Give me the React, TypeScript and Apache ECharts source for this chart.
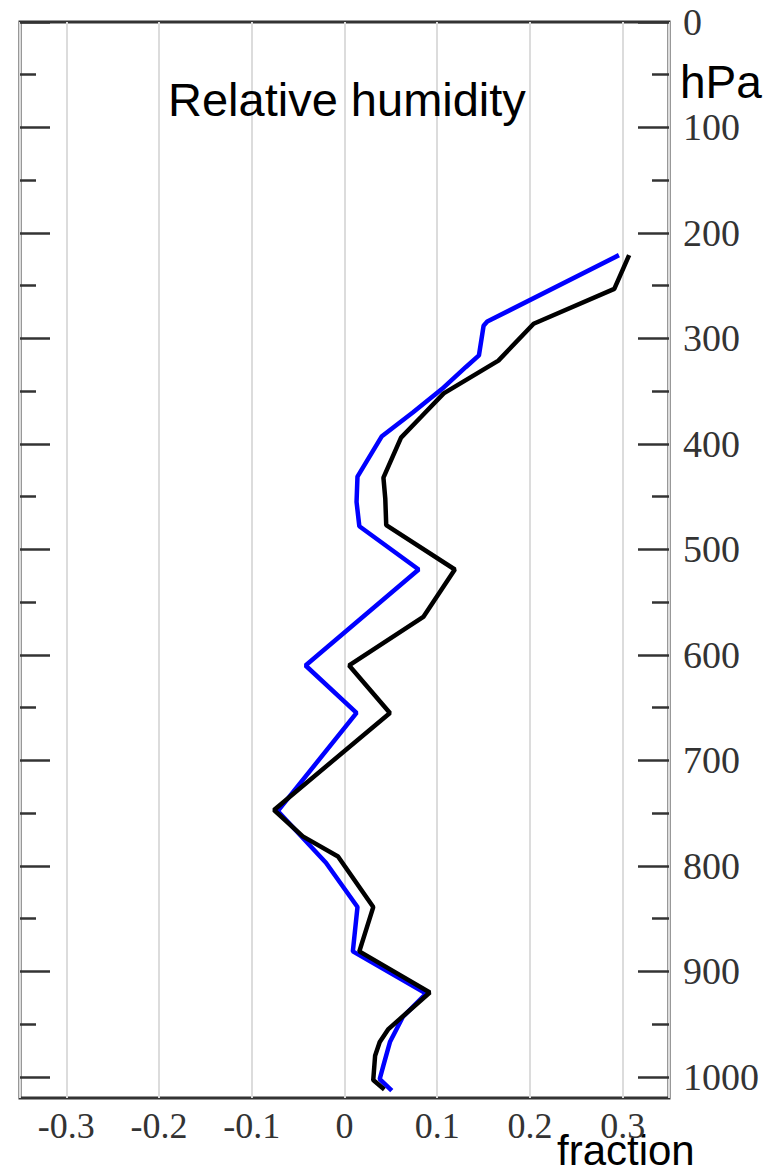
import React, { useEffect, useRef } from "react";
import * as echarts from "echarts";

// Pressure axis (hPa), drawn top-down
const pressureMajorTicks = [0, 100, 200, 300, 400, 500, 600, 700, 800, 900, 1000];
const pressureMinorTicks = [50, 150, 250, 350, 450, 550, 650, 750, 850, 950];

// Fraction axis labels
const fractionLabels = [-0.3, -0.2, -0.1, 0, 0.1, 0.2, 0.3];

// Black profile: relative humidity difference (fraction) by pressure level
const blackPressure = [221, 253, 286, 321, 352, 374, 394, 432, 452, 477, 519, 564, 610, 655, 747, 772, 791, 839, 881, 920, 955, 967, 980, 1003, 1012];
const blackFraction = [0.307, 0.291, 0.204, 0.166, 0.107, 0.083, 0.061, 0.042, 0.044, 0.045, 0.119, 0.085, 0.005, 0.049, -0.076, -0.045, -0.007, 0.031, 0.016, 0.092, 0.047, 0.038, 0.033, 0.031, 0.043];

// Blue profile
const bluePressure = [221, 284, 288, 316, 327, 348, 370, 393, 431, 455, 478, 519, 610, 655, 748, 797, 839, 881, 921, 943, 967, 989, 1002, 1013];
const blueFraction = [0.296, 0.154, 0.150, 0.145, 0.131, 0.105, 0.074, 0.040, 0.014, 0.013, 0.016, 0.080, -0.042, 0.013, -0.072, -0.020, 0.014, 0.009, 0.088, 0.063, 0.049, 0.042, 0.038, 0.051];

const SERIF = '"Liberation Serif", "Times New Roman", serif';
const SANS = '"Liberation Sans", Arial, sans-serif';
const FRAME = "#333";

const pairs = (xs: number[], ps: number[]) => xs.map((x, i) => [x, ps[i]]);

// Plain caption placed with the title component
const caption = (text: string, left: number, top: number, fontSize: number) => ({
  text,
  left,
  top,
  padding: 0,
  z: 1,
  textStyle: {
    fontFamily: SANS,
    fontSize,
    fontWeight: "normal",
    color: "#000",
  },
});

export default function App() {
  const ref = useRef<HTMLDivElement>(null);

  useEffect(() => {
    if (!ref.current) return;
    const chart = echarts.init(ref.current, null, { renderer: "svg" });

    const tickAxis = (position: "left" | "right", values: number[], length: number, labels: boolean) => ({
      type: "value",
      position,
      inverse: true,
      min: 0,
      max: 1020,
      offset: 0,
      axisLine: { show: false, onZero: false },
      splitLine: { show: false },
      axisTick: {
        show: true,
        inside: true,
        length,
        customValues: values,
        lineStyle: { color: FRAME, width: 2.5 },
      },
      axisLabel: labels
        ? {
            show: true,
            customValues: values,
            hideOverlap: false,
            margin: 14,
            fontFamily: SERIF,
            fontSize: 38,
            color: "#333",
            formatter: (v: number) => String(v),
          }
        : { show: false },
    });

    chart.setOption({
      animation: false,
      backgroundColor: "#fff",
      title: [
        caption("Relative humidity", 168, 76, 47),
        caption("hPa", 680, 59, 46),
        caption("fraction", 557, 1129, 42),
      ],
      grid: {
        left: 20,
        right: 101,
        top: 22,
        bottom: 72,
        show: true,
        borderColor: FRAME,
        borderWidth: 3,
        backgroundColor: "transparent",
      },
      xAxis: [
        {
          // vertical grid lines
          type: "value",
          position: "bottom",
          min: -0.35,
          max: 0.35,
          splitNumber: 7,
          axisLine: { show: false, onZero: false },
          axisTick: { show: false },
          axisLabel: { show: false },
          splitLine: { show: true, lineStyle: { color: "#dcdcdc", width: 2 } },
        },
        {
          // tick labels, drawn above the captions
          type: "value",
          position: "bottom",
          offset: 0,
          z: 20,
          min: -0.35,
          max: 0.35,
          axisLine: { show: false, onZero: false },
          axisTick: { show: false },
          splitLine: { show: false },
          axisLabel: {
            customValues: fractionLabels,
            showMinLabel: true,
            showMaxLabel: true,
            hideOverlap: false,
            margin: 10,
            fontFamily: SERIF,
            fontSize: 36,
            color: "#333",
            formatter: (v: number) => String(Math.round(v * 10) / 10),
          },
        },
      ],
      yAxis: [
        tickAxis("right", pressureMajorTicks, 31, true),
        tickAxis("right", pressureMinorTicks, 17, false),
        tickAxis("left", pressureMajorTicks, 30, false),
        tickAxis("left", pressureMinorTicks, 16, false),
      ],
      series: [
        {
          type: "line",
          xAxisIndex: 0,
          yAxisIndex: 0,
          data: pairs(blueFraction, bluePressure),
          showSymbol: false,
          lineStyle: { color: "#0000ff", width: 4.5 },
          z: 3,
        },
        {
          type: "line",
          xAxisIndex: 0,
          yAxisIndex: 0,
          data: pairs(blackFraction, blackPressure),
          showSymbol: false,
          lineStyle: { color: "#000", width: 4.5 },
          z: 4,
        },
      ],
    });

    return () => chart.dispose();
  }, []);

  return (
    <div
      ref={ref}
      style={{ position: "absolute", left: 0, top: 0, width: 770, height: 1170 }}
    />
  );
}
